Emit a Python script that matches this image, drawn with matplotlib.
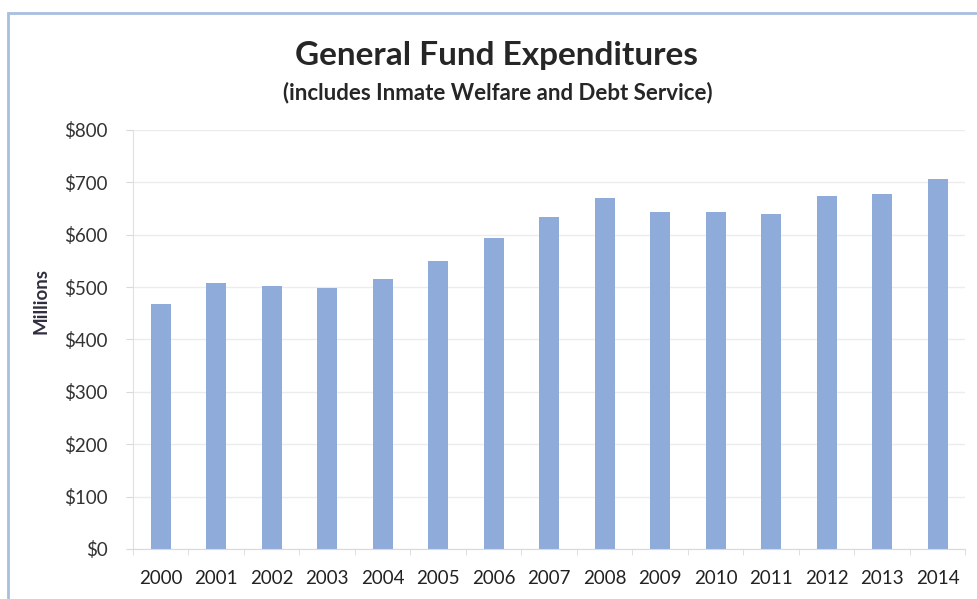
import matplotlib.pyplot as plt
from matplotlib.patches import Rectangle

years = ['2000', '2001', '2002', '2003', '2004', '2005', '2006', '2007',
         '2008', '2009', '2010', '2011', '2012', '2013', '2014']
spending = [468, 508, 502, 499, 515, 550, 593, 634,
            670, 643, 644, 639, 674, 678, 706]
y_ticks = [0, 100, 200, 300, 400, 500, 600, 700, 800]

plt.rcParams['font.family'] = ['Lato', 'DejaVu Sans']

fig = plt.figure(figsize=(9.78, 5.99), dpi=100)
ax = fig.add_axes([0.136, 0.0835, 0.851, 0.6995])

x = range(len(years))
ax.bar(x, spending, width=0.36, color='#8eabd9', zorder=2)

ax.set_xlim(-0.5, len(years) - 0.5)
ax.set_ylim(0, 800)
ax.set_yticks(y_ticks)
ax.set_yticklabels([f'${v}' for v in y_ticks], fontsize=13.5, color='#333333')
ax.set_xticks(list(x))
ax.set_xticklabels(years, fontsize=13.5, color='#222222')
ax.set_xticks([i - 0.5 for i in range(len(years) + 1)], minor=True)
ax.tick_params(axis='x', which='major', length=0, pad=15)
ax.tick_params(axis='x', which='minor', length=4, color='#d9d9d9')
ax.tick_params(axis='y', length=5, color='#d9d9d9', pad=13)

ax.grid(axis='y', color='#ececec', linewidth=1, zorder=0)
for side in ['top', 'right']:
    ax.spines[side].set_visible(False)
ax.spines['left'].set_color('#e0e0e0')
ax.spines['bottom'].set_color('#d9d9d9')

fig.text(0.042, 1 - 301 / 599, 'Millions', rotation=90, fontsize=13.5,
         fontweight='bold', color='#2f2f40', ha='center', va='center')

# title and subtitle placed by baseline
fig.text(0.508, 1 - 65 / 599, 'General Fund Expenditures', fontsize=24,
         fontweight='bold', color='#262626', ha='center', va='baseline')
fig.text(0.509, 1 - 99 / 599, '(includes Inmate Welfare and Debt Service)',
         fontsize=16, fontweight='bold', color='#262626', ha='center', va='baseline')

# chart frame
fig.patches.append(Rectangle((8 / 978, -0.05), 1.0, 1 - 13 / 599 + 0.05,
                             transform=fig.transFigure, fill=False,
                             edgecolor='#a8bfe0', linewidth=2))

fig.savefig('out.png', dpi=100)
